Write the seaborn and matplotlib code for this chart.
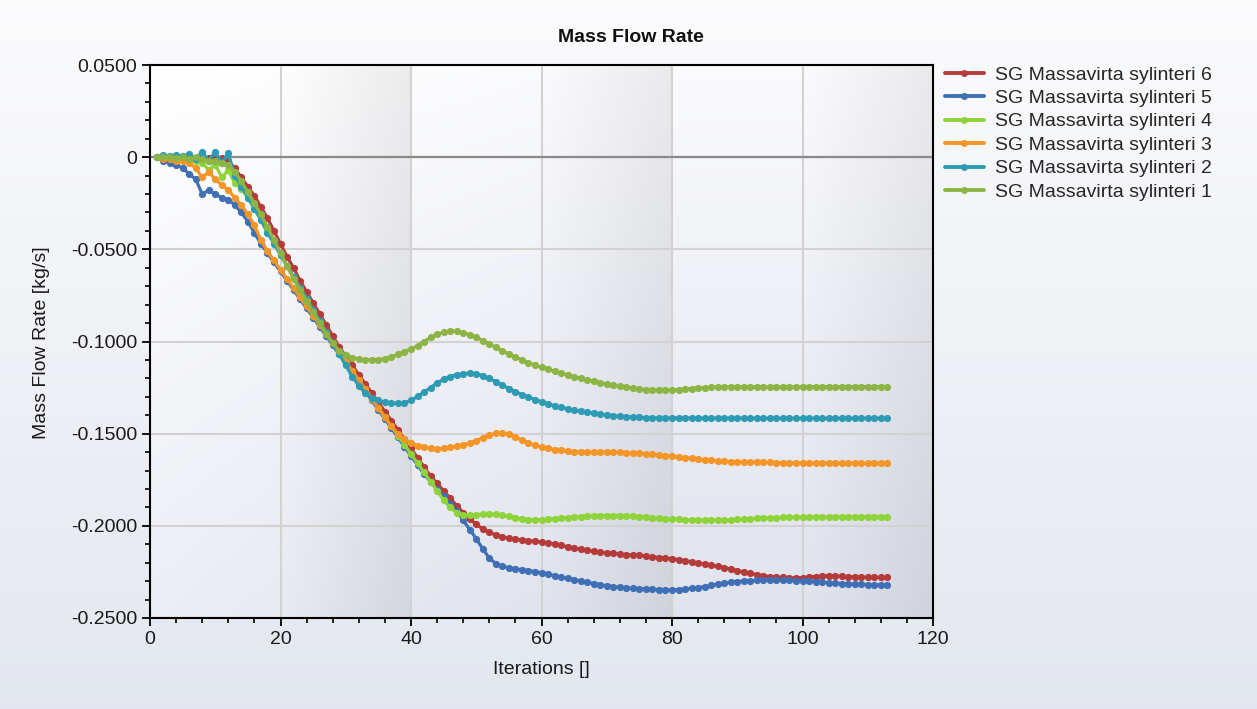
import numpy as np
import pandas as pd
import matplotlib
matplotlib.use("Agg")
import matplotlib.pyplot as plt
import seaborn as sns
from matplotlib.ticker import MultipleLocator, FuncFormatter
from matplotlib.lines import Line2D

# ---------------- data ----------------
iterations = list(range(1, 114))

s6 = [0, 0.0005, 0, 0.0005, 0, 0.0005, -0.0005, 0, -0.0005, 0, -0.0005, -0.002,
      -0.006, -0.011, -0.016, -0.021, -0.027, -0.033, -0.040, -0.047,
      -0.054, -0.060, -0.067, -0.073, -0.079, -0.085, -0.091, -0.097, -0.103, -0.108,
      -0.113, -0.118, -0.123, -0.128, -0.133, -0.138, -0.143, -0.148, -0.153, -0.158,
      -0.163, -0.168, -0.173, -0.177, -0.181, -0.185, -0.189, -0.1928, -0.1962, -0.1992,
      -0.2017, -0.2035, -0.205, -0.206, -0.2067, -0.2072, -0.2076, -0.208, -0.2084, -0.2088,
      -0.2093, -0.2099, -0.2106, -0.2113, -0.212, -0.2127, -0.2133, -0.2138, -0.2142, -0.2146,
      -0.215, -0.2153, -0.2156, -0.2158, -0.216, -0.2164, -0.2168, -0.2172, -0.2175, -0.2178,
      -0.2183, -0.2189, -0.2195, -0.2202, -0.2208, -0.2214, -0.222, -0.2227, -0.2235, -0.2243,
      -0.225, -0.2258, -0.2265, -0.227, -0.2275, -0.2278, -0.228, -0.2282, -0.2282, -0.2281,
      -0.2278, -0.2275, -0.2272, -0.2271, -0.2272, -0.2274, -0.2276, -0.2277, -0.2278, -0.2279,
      -0.228, -0.228, -0.228]

s5 = [0, -0.002, -0.003, -0.004, -0.006, -0.009, -0.012, -0.020, -0.018, -0.020, -0.022, -0.023,
      -0.026, -0.030, -0.035, -0.041, -0.047, -0.052, -0.057, -0.062,
      -0.067, -0.072, -0.077, -0.082, -0.087, -0.092, -0.097, -0.102, -0.107, -0.112,
      -0.117, -0.122, -0.127, -0.132, -0.137, -0.142, -0.147, -0.152, -0.157, -0.162,
      -0.167, -0.172, -0.176, -0.180, -0.184, -0.188, -0.192, -0.197, -0.202, -0.207,
      -0.2125, -0.2175, -0.2205, -0.222, -0.2228, -0.2233, -0.2238, -0.2243, -0.2248, -0.2255,
      -0.2262, -0.227, -0.2278, -0.2285, -0.2292, -0.2299, -0.2306, -0.2313, -0.2319, -0.2325,
      -0.233, -0.2334, -0.2337, -0.2339, -0.234, -0.2342, -0.2344, -0.2346, -0.2347, -0.2348,
      -0.2346, -0.2343, -0.2339, -0.2335, -0.233, -0.2323, -0.2316, -0.231, -0.2306, -0.2302,
      -0.2299, -0.2297, -0.2295, -0.2294, -0.2294, -0.2294, -0.2295, -0.2296, -0.2297, -0.2298,
      -0.23, -0.2302, -0.2305, -0.2308, -0.231, -0.2313, -0.2315, -0.2317, -0.2318, -0.2319,
      -0.232, -0.232, -0.2321]

s4 = [0, 0, 0, -0.001, -0.001, -0.002, -0.002, -0.003, -0.007, -0.004, -0.011, -0.007,
      -0.014, -0.017, -0.022, -0.028, -0.034, -0.040, -0.046, -0.053,
      -0.059, -0.065, -0.071, -0.077, -0.083, -0.089, -0.095, -0.101, -0.106, -0.111,
      -0.116, -0.121, -0.126, -0.131, -0.136, -0.141, -0.146, -0.151, -0.156, -0.161,
      -0.166, -0.171, -0.176, -0.181, -0.186, -0.190, -0.193, -0.1942, -0.1942, -0.194,
      -0.1938, -0.1937, -0.1938, -0.1942, -0.1948, -0.1955, -0.1962, -0.1966, -0.1967, -0.1966,
      -0.1964, -0.1961, -0.1958, -0.1955, -0.1952, -0.195, -0.1948, -0.1946, -0.1945, -0.1944,
      -0.1944, -0.1944, -0.1945, -0.1947, -0.195, -0.1953, -0.1956, -0.1959, -0.1961, -0.1962,
      -0.1964, -0.1966, -0.1967, -0.1968, -0.1969, -0.1969, -0.1969, -0.1968, -0.1967, -0.1965,
      -0.1963, -0.1961, -0.1959, -0.1957, -0.1956, -0.1955, -0.1954, -0.1954, -0.1954, -0.1953,
      -0.1953, -0.1952, -0.1952, -0.1952, -0.1951, -0.1951, -0.1951, -0.1951, -0.195, -0.195,
      -0.195, -0.195, -0.195]

s3 = [0, -0.001, -0.001, -0.002, -0.002, -0.003, -0.006, -0.011, -0.008, -0.012, -0.015, -0.018,
      -0.022, -0.026, -0.031, -0.037, -0.045, -0.051, -0.056, -0.061,
      -0.066, -0.071, -0.076, -0.081, -0.086, -0.091, -0.096, -0.101, -0.106, -0.111,
      -0.116, -0.121, -0.126, -0.131, -0.136, -0.141, -0.146, -0.150, -0.153, -0.155,
      -0.1565, -0.1575, -0.158, -0.1582, -0.158, -0.1575, -0.1568, -0.156, -0.155, -0.1538,
      -0.1522, -0.1508, -0.1499, -0.1497, -0.1503, -0.1518, -0.1535, -0.155, -0.1563, -0.1573,
      -0.158, -0.1586, -0.159, -0.1594, -0.1597, -0.1599, -0.16, -0.16, -0.16, -0.16,
      -0.1601, -0.1602, -0.1603, -0.1605, -0.1607, -0.161, -0.1613, -0.1616, -0.1619, -0.1622,
      -0.1626, -0.163, -0.1634, -0.1638, -0.1642, -0.1645, -0.1648, -0.165, -0.1651, -0.1652,
      -0.1653, -0.1654, -0.1655, -0.1656, -0.1656, -0.1657, -0.1657, -0.1658, -0.1658, -0.1658,
      -0.1659, -0.1659, -0.1659, -0.166, -0.166, -0.166, -0.166, -0.166, -0.1661, -0.1661,
      -0.1661, -0.1661, -0.1661]

s2 = [0, 0.001, 0.0005, 0.001, 0.0005, 0.0015, -0.001, 0.003, -0.002, 0.003, -0.003, 0.002,
      -0.010, -0.016, -0.022, -0.028, -0.034, -0.041, -0.047, -0.053,
      -0.059, -0.065, -0.071, -0.077, -0.083, -0.089, -0.095, -0.101, -0.107, -0.113,
      -0.119, -0.124, -0.128, -0.1305, -0.132, -0.133, -0.1335, -0.1336, -0.1332, -0.132,
      -0.1298, -0.1275, -0.125, -0.1225, -0.1205, -0.119, -0.118, -0.1174, -0.1172, -0.1175,
      -0.1185, -0.12, -0.1218, -0.1237, -0.1255, -0.1272, -0.1288, -0.1302, -0.1315, -0.1327,
      -0.1338, -0.1348, -0.1357, -0.1365, -0.1372, -0.1378, -0.1384, -0.1389, -0.1394, -0.1398,
      -0.1402, -0.1405, -0.1408, -0.141, -0.1412, -0.1413, -0.1414, -0.1415, -0.1415, -0.1415,
      -0.1415, -0.1415, -0.1415, -0.1415, -0.1416, -0.1416, -0.1416, -0.1416, -0.1416, -0.1416,
      -0.1416, -0.1416, -0.1417, -0.1417, -0.1417, -0.1417, -0.1417, -0.1417, -0.1417, -0.1417,
      -0.1417, -0.1417, -0.1417, -0.1417, -0.1417, -0.1417, -0.1417, -0.1417, -0.1417, -0.1417,
      -0.1417, -0.1417, -0.1417]

s1 = [0, 0, 0, -0.0005, 0, -0.001, 0, -0.001, -0.002, -0.002, -0.003, -0.004,
      -0.008, -0.013, -0.019, -0.025, -0.031, -0.038, -0.045, -0.052,
      -0.059, -0.066, -0.072, -0.078, -0.084, -0.090, -0.096, -0.101, -0.105, -0.1075,
      -0.1088, -0.1095, -0.1098, -0.1099, -0.1098, -0.1093, -0.1083, -0.107, -0.1055, -0.104,
      -0.1022, -0.1, -0.0978, -0.0962, -0.095, -0.0944, -0.0944, -0.0952, -0.0963, -0.0978,
      -0.0995, -0.1013, -0.1032, -0.105, -0.1068, -0.1085, -0.11, -0.1115, -0.1128, -0.114,
      -0.1151, -0.1162, -0.1172, -0.1182, -0.1192, -0.12, -0.1208, -0.1216, -0.1224, -0.1231,
      -0.1238, -0.1244, -0.1249, -0.1254, -0.1258, -0.1261, -0.1263, -0.1264, -0.1264, -0.1263,
      -0.1261, -0.1258, -0.1255, -0.1252, -0.125, -0.1249, -0.1248, -0.1247, -0.1247, -0.1247,
      -0.1246, -0.1246, -0.1246, -0.1246, -0.1246, -0.1246, -0.1246, -0.1246, -0.1246, -0.1246,
      -0.1245, -0.1245, -0.1245, -0.1245, -0.1245, -0.1245, -0.1245, -0.1245, -0.1245, -0.1245,
      -0.1245, -0.1245, -0.1245]

series_names = ["SG Massavirta sylinteri 6", "SG Massavirta sylinteri 5",
                "SG Massavirta sylinteri 4", "SG Massavirta sylinteri 3",
                "SG Massavirta sylinteri 2", "SG Massavirta sylinteri 1"]
series_values = [s6, s5, s4, s3, s2, s1]
colors = ["#b53a3a", "#3f6fb5", "#8fd33a", "#f39527", "#2e9bb5", "#8db545"]

x_ticks = [0, 20, 40, 60, 80, 100, 120]
y_ticks = [0.05, 0.0, -0.05, -0.10, -0.15, -0.20, -0.25]

df = pd.concat([pd.DataFrame({"Iteration": iterations, "Mass Flow Rate": v, "Series": n})
                for n, v in zip(series_names, series_values)], ignore_index=True)

# ---------------- style ----------------
sns.set_theme(style="white")
plt.rcParams["font.family"] = ["Liberation Sans", "DejaVu Sans"]

W, H = 1257, 709
fig = plt.figure(figsize=(W / 100, H / 100), dpi=100)

# figure background gradient
bgax = fig.add_axes([0, 0, 1, 1], zorder=-10)
t = np.linspace(0, 1, 256)[:, None, None]
top = np.array([0.985, 0.985, 0.99])
bot = np.array([0.89, 0.905, 0.935])
fig_bg = (top * (1 - t) + bot * t) * np.ones((1, 4, 1))
bgax.imshow(fig_bg, aspect="auto", extent=(0, 1, 0, 1))
bgax.axis("off")

ax = fig.add_axes([150 / W, 1 - 618 / H, 783 / W, 553 / H])

# plot-area background: banded gradient
nx, ny = 600, 200
u = np.linspace(0, 120, nx)[None, :]
v = np.linspace(0, 1, ny)[:, None]  # 0 top -> 1 bottom
base_top = np.array([1.0, 1.0, 1.0])
base_bot = np.array([0.88, 0.89, 0.93])
diag = np.clip(0.6 * v + 0.4 * np.clip(u / 60, 0, 1) * (0.4 + 0.6 * v), 0, 1)
band = (u // 20).astype(int)
frac = (u % 20) / 20
dark = np.where(band % 2 == 1, 0.065 * frac, 0.0)
img = base_top[None, None, :] * (1 - diag[..., None]) + base_bot[None, None, :] * diag[..., None]
img = img - dark[..., None] * np.ones_like(v)[..., None]
img = np.clip(img, 0, 1)
ax.imshow(img, aspect="auto", extent=(0, 120, -0.25, 0.05), zorder=0, interpolation="bilinear")

sns.lineplot(data=df, x="Iteration", y="Mass Flow Rate", hue="Series",
             hue_order=series_names, palette=colors, marker="o", markersize=5.2,
             markeredgewidth=0, linewidth=2.3, estimator=None, legend=False,
             ax=ax, zorder=3)

ax.set_xlim(0, 120)
ax.set_ylim(-0.25, 0.05)
ax.set_xticks(x_ticks)
ax.set_yticks(y_ticks)
ax.xaxis.set_minor_locator(MultipleLocator(4))
ax.yaxis.set_minor_locator(MultipleLocator(0.01))
ax.yaxis.set_major_formatter(FuncFormatter(lambda val, pos: "0" if abs(val) < 1e-9 else f"{val:.4f}"))
ax.tick_params(axis="both", which="major", direction="out", length=6, width=1.3,
               color="black", labelsize=14, pad=3, labelcolor="#1a1a1a")
ax.tick_params(axis="both", which="minor", direction="out", length=3.5, width=1.2, color="black")
ax.tick_params(bottom=True, left=True, which="both")
ax.grid(True, which="major", color="#d2d2d2", linewidth=1.5, zorder=1)
ax.set_axisbelow(True)
ax.axhline(0, color="#8a8a8a", linewidth=1.6, zorder=2)
for sp in ax.spines.values():
    sp.set_color("black")
    sp.set_linewidth(1.5)
ax.set_xlabel("")
ax.set_ylabel("")

fig.text(541 / W, 1 - 670 / H, "Iterations []", ha="center", va="center", fontsize=14, color="#1a1a1a")
fig.text(42 / W, 1 - 343 / H, "Mass Flow Rate [kg/s]", ha="center", va="center",
         rotation=90, fontsize=14, color="#1a1a1a")
fig.text(631 / W, 1 - 38 / H, "Mass Flow Rate", ha="center", va="center",
         fontsize=14, fontweight="bold", color="#111111")

handles = [Line2D([0], [0], color=c, lw=2.8, marker="o", markersize=5, markeredgewidth=0)
           for c in colors]
fig.legend(handles, series_names, loc="upper left", bbox_to_anchor=(945 / W, 1 - 66 / H),
           frameon=False, fontsize=14, handlelength=2.0, handletextpad=0.55,
           labelspacing=0.3, borderaxespad=0, borderpad=0)

fig.savefig("out.png", dpi=100)
